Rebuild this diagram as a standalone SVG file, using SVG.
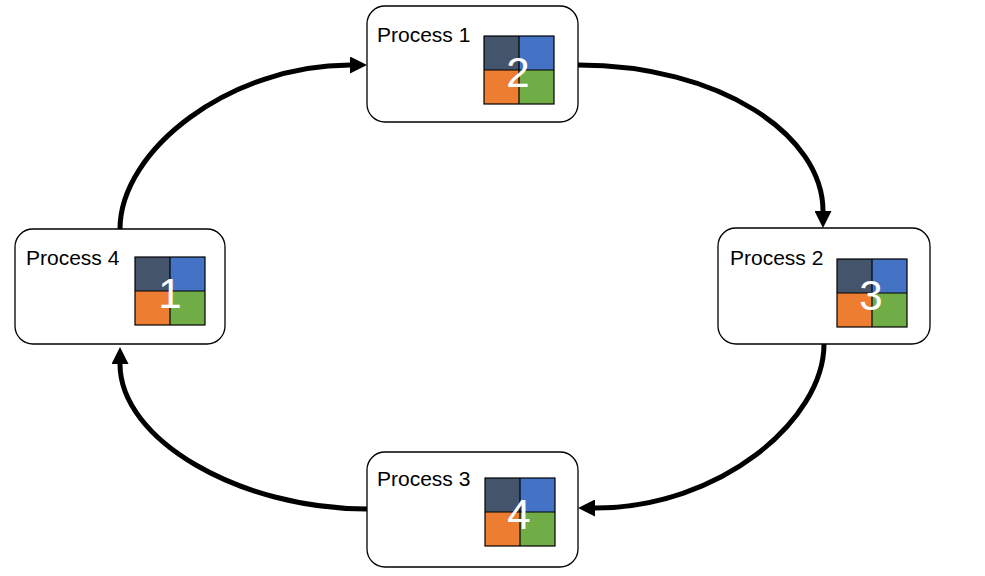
<svg xmlns="http://www.w3.org/2000/svg" width="985" height="576" viewBox="0 0 985 576">
<style>
.box{fill:#fff;stroke:#000;stroke-width:1.3}
.lbl{font-family:"Liberation Sans",Arial,sans-serif;font-size:21px;fill:#000}
.num{font-family:"Liberation Sans",Arial,sans-serif;font-size:42px;fill:#fff;text-anchor:middle}
.q1{fill:#44546A}.q2{fill:#4472C4}.q3{fill:#ED7D31}.q4{fill:#70AD47}
.grid{fill:none;stroke:#000;stroke-width:1.2}
.conn{fill:none;stroke:#000;stroke-width:5}
</style>
<defs>
<marker id="ah" markerUnits="userSpaceOnUse" markerWidth="17" markerHeight="17" refX="0" refY="8.5" orient="auto">
<path d="M0,0 L17,8.5 L0,17 z" fill="#000"/>
</marker>
<g id="quad">
<rect class="q1" x="0" y="0" width="35" height="34"/>
<rect class="q2" x="35" y="0" width="35" height="34"/>
<rect class="q3" x="0" y="34" width="35" height="34"/>
<rect class="q4" x="35" y="34" width="35" height="34"/>
<rect class="grid" x="0" y="0" width="70" height="68"/>
<line class="grid" x1="35" y1="0" x2="35" y2="68"/>
<line class="grid" x1="0" y1="34" x2="70" y2="34"/>
</g>
</defs>
<rect width="985" height="576" fill="#fff"/>
<g id="connectors">
<path class="conn" marker-end="url(#ah)" d="M578,65 C720,65 823,135 823,211"/>
<path class="conn" marker-end="url(#ah)" d="M824,344 C824,420 720,508 595,508"/>
<path class="conn" marker-end="url(#ah)" d="M367,509 C240,509 120,440 120,364"/>
<path class="conn" marker-end="url(#ah)" d="M120,229 C120,150 230,65 350,65"/>
</g>
<g id="process1">
<rect class="box" x="367" y="6" width="211" height="116" rx="18"/>
<text class="lbl" x="377" y="42">Process 1</text>
<use href="#quad" x="484" y="36"/>
<text class="num" x="518" y="87">2</text>
</g>
<g id="process2">
<rect class="box" x="718" y="228" width="212" height="116" rx="18"/>
<text class="lbl" x="730" y="265">Process 2</text>
<use href="#quad" x="837" y="259"/>
<text class="num" x="871" y="310">3</text>
</g>
<g id="process3">
<rect class="box" x="367" y="452" width="211" height="115" rx="18"/>
<text class="lbl" x="377" y="486">Process 3</text>
<use href="#quad" x="485" y="478"/>
<text class="num" x="519" y="529">4</text>
</g>
<g id="process4">
<rect class="box" x="15" y="229" width="210" height="115" rx="18"/>
<text class="lbl" x="26" y="265">Process 4</text>
<use href="#quad" x="135" y="257"/>
<text class="num" x="170" y="308">1</text>
</g>
</svg>
